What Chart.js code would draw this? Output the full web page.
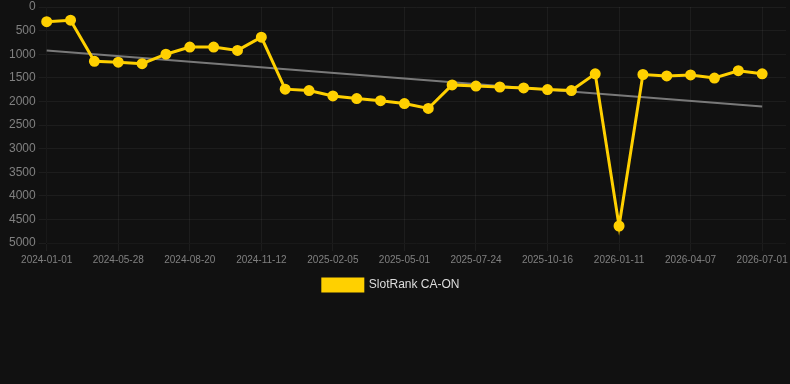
<!DOCTYPE html>
<html>
<head>
<meta charset="utf-8">
<script src="https://cdn.jsdelivr.net/npm/chart.js@4/dist/chart.umd.min.js"></script>
<style>
  html, body { margin: 0; padding: 0; background: #111111; overflow: hidden; }
  #wrap { position: relative; width: 793px; height: 301px; }
</style>
</head>
<body>
<div id="wrap"><canvas id="rankChart"></canvas></div>
<script>
// Ngày đo (mỗi nhãn thứ 3 được hiển thị trên trục X)
const dates = [
  '2024-01-01', '2024-02-20', '2024-04-09', '2024-05-28', '2024-06-25', '2024-07-23',
  '2024-08-20', '2024-09-17', '2024-10-15', '2024-11-12', '2024-12-10', '2025-01-08',
  '2025-02-05', '2025-03-05', '2025-04-02', '2025-05-01', '2025-05-29', '2025-06-26',
  '2025-07-24', '2025-08-21', '2025-09-18', '2025-10-16', '2025-11-13', '2025-12-12',
  '2026-01-11', '2026-02-08', '2026-03-10', '2026-04-07', '2026-05-05', '2026-06-02',
  '2026-07-01', '2026-07-29'
];

// Thứ hạng SlotRank CA-ON
const rankValues = [
  310, 280, 1150, 1170, 1200, 1000, 850, 850, 920, 640,
  1740, 1770, 1885, 1940, 1985, 2045, 2150, 1650, 1675, 1695,
  1715, 1750, 1770, 1415, 4640, 1430, 1460, 1440, 1505, 1350,
  1415, null
];

// Đường xu hướng: chỉ có điểm đầu và điểm cuối
const trendValues = dates.map(() => null);
trendValues[0] = 920;
trendValues[30] = 2110;

const yTicks = { min: 0, max: 5000, step: 500 };

new Chart(document.getElementById('rankChart'), {
  type: 'line',
  data: {
    labels: dates,
    datasets: [
      {
        label: 'SlotRank CA-ON',
        data: rankValues,
        borderColor: '#ffd000',
        backgroundColor: '#ffd000',
        borderWidth: 3,
        pointRadius: 4,
        pointBackgroundColor: '#ffd000',
        pointBorderColor: '#ffd000',
        tension: 0
      },
      {
        label: 'trend',
        data: trendValues,
        borderColor: 'rgba(140, 140, 140, 0.85)',
        borderWidth: 2,
        pointRadius: 0,
        spanGaps: true,
        fill: false
      }
    ]
  },
  options: {
    responsive: true,
    maintainAspectRatio: false,
    animation: false,
    layout: { padding: { left: 6 } },
    scales: {
      x: {
        grid: { color: 'rgba(255, 255, 255, 0.05)' },
        ticks: {
          color: '#808080',
          font: { size: 10 },
          padding: 3,
          autoSkip: false,
          maxRotation: 0,
          callback: function(value, index) {
            return index % 3 === 0 && index <= 30 ? this.getLabelForValue(value) : null;
          }
        }
      },
      y: {
        reverse: true,
        min: yTicks.min,
        max: yTicks.max,
        grid: { color: 'rgba(255, 255, 255, 0.05)' },
        ticks: {
          stepSize: yTicks.step,
          color: '#808080',
          font: { size: 12, lineHeight: 0.6 },
          callback: value => String(value)
        }
      }
    },
    plugins: {
      legend: {
        position: 'bottom',
        labels: {
          color: '#dddddd',
          font: { size: 12 },
          filter: item => item.text !== 'trend',
          // khoảng trắng cuối để dịch chú giải sang trái giống ảnh gốc
          generateLabels: chart => Chart.defaults.plugins.legend.labels.generateLabels(chart)
            .map(item => Object.assign(item, { text: item.text === 'trend' ? item.text : item.text + '\u00a0\u00a0\u00a0\u00a0\u00a0' }))
        }
      },
      tooltip: { enabled: false }
    }
  }
});
</script>
</body>
</html>
